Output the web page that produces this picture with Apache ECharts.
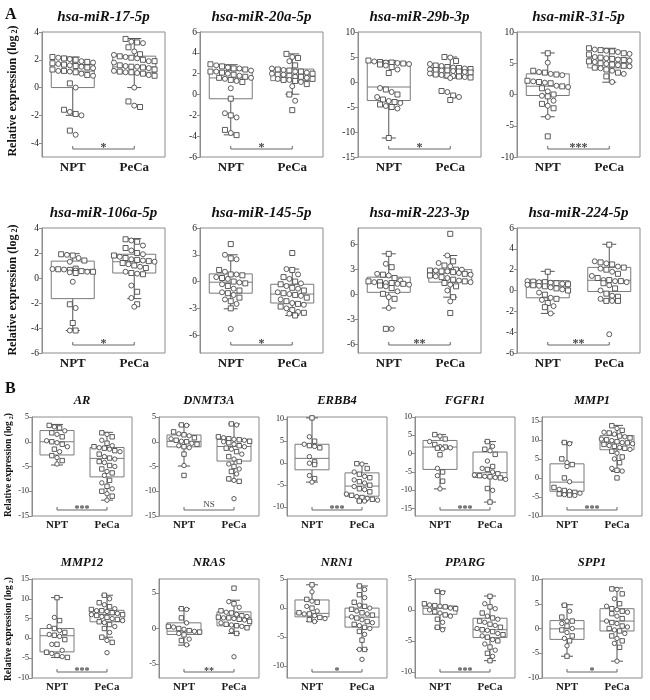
<!DOCTYPE html>
<html><head><meta charset="utf-8">
<script src="https://cdn.jsdelivr.net/npm/echarts@6/dist/echarts.min.js"></script>
<style>html,body{margin:0;padding:0;background:#fff}#c{width:650px;height:700px}</style>
</head><body><div id="c"></div>
<script>
// ---------- DATA ----------
const groups = ['NPT', 'PeCa'];

const titlesA = ['hsa-miR-17-5p','hsa-miR-20a-5p','hsa-miR-29b-3p','hsa-miR-31-5p','hsa-miR-106a-5p','hsa-miR-145-5p','hsa-miR-223-3p','hsa-miR-224-5p'];
const sigA = ['*','*','*','***','*','*','**','**'];
const rangeA = [[-5,4],[-6,6],[-15,10],[-10,10],[-6,4],[-8,6],[-7,8],[-6,6]];
const ticksA = [[-4,-2,0,2,4],[-6,-4,-2,0,2,4,6],[-15,-10,-5,0,5,10],[-10,-5,0,5,10],[-6,-4,-2,0,2,4],[-6,-3,0,3,6],[-6,-3,0,3,6],[-6,-4,-2,0,2,4,6]];

const titlesB = ['AR','DNMT3A','ERBB4','FGFR1','MMP1','MMP12','NRAS','NRN1','PPARG','SPP1'];
const sigB = ['***','NS','***','***','***','***','**','*','***','*'];
const rangeB = [[-15,5],[-15,5],[-12,10.5],[-17,10],[-10,16],[-10,15],[-7,7],[-12,5],[-11,5],[-10,10]];
const ticksB = [[-15,-10,-5,0,5],[-15,-10,-5,0,5],[-10,-5,0,5,10],[-15,-10,-5,0,5,10],[-10,-5,0,5,10,15],[-10,-5,0,5,10,15],[-5,0,5],[-10,-5,0,5],[-10,-5,0,5],[-10,-5,0,5,10]];

// box stats per group: [lower whisker, Q1, median, Q3, upper whisker] for NPT, PeCa
const m17_box = [[-2.0,0.0,1.18,1.66,2.2],[0.0,1.1,1.49,2.26,3.53]];
const m17_NPT = [2.2,2.15,2.1,2.05,2.0,1.9,1.85,1.8,1.75,1.7,1.65,1.6,1.55,1.5,1.45,1.4,1.3,1.2,1.2,1.15,1.1,1.0,0.9,0.85,0.3,0.0,-1.6,-1.75,-1.9,-2.0,-3.1,-3.4];
const m17_PeCa = [3.5,3.3,3.25,3.2,2.9,2.6,2.4,2.35,2.25,2.2,2.15,2.1,2.0,1.9,1.9,1.8,1.6,1.55,1.5,1.5,1.45,1.4,1.3,1.2,1.15,1.1,1.1,1.05,1.0,0.9,0.85,0.0,-1.0,-1.3,-1.4];

const m20a_box = [[-3.87,-0.41,1.59,2.29,2.86],[0.03,1.33,1.87,2.44,3.9]];
const m20a_NPT = [2.9,2.8,2.7,2.6,2.5,2.5,2.4,2.3,2.2,2.2,2.1,2.0,1.9,1.8,1.7,1.6,1.6,1.5,1.4,1.3,1.2,0.6,-0.4,-1.8,-2.0,-2.2,-3.4,-3.7,-3.9];
const m20a_PeCa = [3.9,3.6,3.5,3.2,2.8,2.5,2.4,2.35,2.3,2.2,2.2,2.1,2.0,2.0,1.9,1.9,1.8,1.7,1.7,1.6,1.5,1.5,1.4,1.4,1.3,1.2,1.0,0.8,0.0,-0.6,-1.5];

const m29b_box = [[-11.2,-3.7,-1.0,3.9,4.3],[0.8,1.3,2.3,2.8,5.0]];
const m29b_NPT = [4.3,4.1,4.0,3.9,3.9,3.8,3.7,3.6,3.5,3.3,3.0,2.5,1.8,-1.2,-1.5,-2.0,-2.5,-3.0,-3.5,-3.8,-4.0,-4.2,-4.5,-4.8,-5.0,-5.3,-11.2];
const m29b_PeCa = [5.0,4.9,4.2,3.6,3.3,3.2,3.0,2.9,2.8,2.7,2.6,2.5,2.4,2.3,2.3,2.2,2.1,2.0,1.9,1.7,1.5,1.4,1.3,1.2,1.1,1.0,0.9,0.8,-1.8,-2.0,-2.7,-3.0,-3.6];

const m31_box = [[-3.56,-0.16,1.33,3.3,6.65],[1.97,4.26,5.05,5.85,7.4]];
const m31_NPT = [6.6,5.1,3.8,3.6,3.5,3.3,3.2,3.1,2.2,2.1,2.0,1.9,1.8,1.4,1.3,1.2,1.0,0.5,0.0,-0.2,-0.3,-1.0,-1.5,-1.8,-2.2,-3.6,-6.7];
const m31_PeCa = [7.4,7.2,7.1,7.0,6.9,6.8,6.6,6.5,6.4,6.0,5.9,5.8,5.7,5.6,5.5,5.4,5.3,5.2,5.0,4.9,4.8,4.7,4.6,4.5,4.3,4.2,4.0,3.8,3.5,3.3,2.9,2.0];

const m106a_box = [[-4.2,-1.65,0.68,1.35,1.95],[-1.65,0.4,1.3,1.9,3.15]];
const m106a_NPT = [1.9,1.85,1.8,1.6,1.4,1.3,0.75,0.72,0.7,0.68,0.65,0.6,0.55,0.5,0.5,0.45,0.4,-0.3,-2.1,-2.4,-3.6,-4.2,-4.2];
const m106a_PeCa = [3.1,3.0,2.9,2.6,2.4,2.2,2.0,1.9,1.8,1.7,1.6,1.5,1.45,1.4,1.35,1.3,1.2,1.1,1.0,0.9,0.8,0.5,0.4,0.35,0.3,-0.6,-1.1,-1.6,-2.1,-2.3];

const m145_box = [[-3.05,-1.3,-0.07,0.86,3.0],[-3.8,-2.4,-1.4,-0.3,1.4]];
const m145_NPT = [4.2,3.0,2.6,2.5,1.3,1.1,0.8,0.8,0.7,0.5,0.4,0.3,0.0,-0.1,-0.2,-0.3,-0.5,-0.8,-1.0,-1.2,-1.3,-1.5,-1.8,-2.0,-2.2,-2.5,-3.0,-5.3];
const m145_PeCa = [3.2,1.4,1.3,0.8,0.5,0.3,0.0,-0.2,-0.3,-0.5,-0.7,-0.8,-1.0,-1.2,-1.3,-1.4,-1.5,-1.6,-1.8,-2.0,-2.2,-2.4,-2.5,-2.6,-2.8,-3.0,-3.2,-3.4,-3.5,-3.6,-3.8];

const m223_box = [[-1.6,0.28,1.4,2.1,4.9],[-0.3,1.5,2.6,3.0,4.7]];
const m223_NPT = [4.9,3.7,3.3,2.5,2.4,2.3,2.0,1.7,1.6,1.5,1.5,1.4,1.4,1.3,1.3,1.2,1.1,1.0,0.8,0.4,0.1,-0.3,-0.5,-1.6,-4.1,-4.1];
const m223_PeCa = [7.3,4.7,4.0,3.8,3.5,3.4,3.0,3.0,2.9,2.9,2.8,2.8,2.7,2.6,2.5,2.4,2.3,2.2,2.1,2.0,1.8,1.7,1.6,1.5,1.4,1.2,1.0,0.5,-0.3,-0.8,-2.2];

const m224_box = [[-2.2,-0.7,0.35,0.95,1.84],[-1.0,-0.1,0.98,2.22,4.44]];
const m224_NPT = [1.8,0.9,0.85,0.8,0.8,0.75,0.7,0.65,0.6,0.55,0.5,0.45,0.4,0.3,0.2,0.1,0.0,-0.2,-0.4,-0.7,-0.8,-0.9,-1.2,-1.5,-1.6,-2.2];
const m224_PeCa = [4.4,2.8,2.7,2.6,2.5,2.3,2.2,2.1,2.0,1.8,1.6,1.4,1.2,1.0,1.0,0.9,0.9,0.8,0.7,0.5,0.2,0.0,-0.3,-0.5,-0.6,-0.8,-1.0,-1.0,-1.0,-4.2];

const AR_box = [[-4.7,-2.67,0.0,2.26,3.5],[-11.8,-7.1,-3.36,-1.16,1.9]];
const AR_NPT = [3.3,3.0,2.8,2.2,1.8,1.5,1.0,0.2,0.0,-0.2,-0.5,-1.0,-1.5,-2.0,-2.8,-3.2,-3.8,-4.5];
const AR_PeCa = [1.8,1.5,1.0,0.3,-0.3,-0.8,-1.0,-1.2,-1.3,-1.5,-1.8,-2.0,-2.5,-3.0,-3.3,-3.5,-4.0,-4.2,-4.8,-5.0,-5.5,-6.0,-6.3,-6.8,-7.8,-8.3,-9.0,-9.5,-10.0,-10.5,-11.0,-11.8];

const DNMT3A_box = [[-4.9,-1.03,0.07,1.37,3.4],[-7.9,-3.9,-0.96,0.48,3.6]];
const DNMT3A_NPT = [3.4,3.3,2.0,1.6,1.4,1.2,0.8,0.6,0.3,0.1,0.0,-0.3,-0.5,-0.8,-1.0,-1.2,-2.5,-4.8,-6.8];
const DNMT3A_PeCa = [3.6,3.4,1.0,0.8,0.6,0.5,0.4,0.3,0.1,0.0,-0.2,-0.5,-0.8,-1.0,-1.3,-1.5,-2.0,-2.5,-3.0,-3.5,-4.0,-4.5,-5.0,-5.5,-6.0,-6.5,-7.5,-7.8,-8.0,-11.5];

const ERBB4_box = [[-4.3,-1.5,1.1,4.3,10.3],[-8.6,-7.5,-5.2,-2.2,-0.1]];
const ERBB4_NPT = [10.3,6.0,5.0,4.3,4.0,3.8,3.5,1.5,0.3,0.0,-0.3,-2.8,-3.5,-4.3];
const ERBB4_PeCa = [-0.1,-0.2,-1.2,-2.0,-2.5,-3.0,-3.3,-3.8,-4.2,-4.5,-5.0,-5.3,-5.8,-6.0,-6.5,-7.0,-7.3,-7.6,-7.8,-8.0,-8.2,-8.4,-8.6,-8.6];

const FGFR1_box = [[-9.6,-4.3,1.8,3.6,5.2],[-13.2,-6.5,-5.2,0.45,3.3]];
const FGFR1_NPT = [5.2,4.8,4.0,3.3,2.5,1.9,1.8,1.6,1.5,1.3,-0.3,-4.0,-5.0,-6.0,-7.5,-9.6];
const FGFR1_PeCa = [3.3,2.0,1.2,0.8,-0.2,-2.0,-3.5,-4.0,-4.3,-5.0,-5.5,-5.8,-6.0,-6.2,-6.3,-6.5,-6.6,-7.0,-9.5,-10.0,-13.2];

const MMP1_box = [[-4.6,-3.5,-1.1,3.7,9.4],[1.7,7.4,9.2,11.1,13.8]];
const MMP1_NPT = [9.3,9.0,5.0,4.0,3.5,3.0,0.0,-1.0,-2.5,-3.0,-3.3,-3.5,-3.8,-4.0,-4.2,-4.4,-4.5,-4.6];
const MMP1_PeCa = [13.7,13.0,12.5,12.0,11.8,11.5,11.0,10.8,10.5,10.2,10.0,9.8,9.5,9.3,9.2,9.0,8.8,8.5,8.3,8.0,7.8,7.5,7.0,6.5,5.5,5.0,4.0,2.5,2.0,1.8,0.0];

const MMP12_box = [[-4.8,-3.4,0.67,2.5,10.3],[0.3,4.2,6.0,7.1,10.9]];
const MMP12_NPT = [10.3,5.3,4.5,3.0,2.5,2.0,1.5,1.0,0.8,0.5,-0.3,-1.5,-1.5,-3.0,-3.5,-3.8,-4.3,-4.6,-4.8];
const MMP12_PeCa = [10.9,10.0,9.0,8.5,8.0,7.5,7.3,7.0,7.0,6.8,6.5,6.3,6.0,6.0,5.8,5.5,5.3,5.0,4.8,4.5,4.2,4.0,3.5,3.0,2.5,1.5,0.3,-0.5,-1.0,-3.6];

const NRAS_box = [[-2.35,-0.85,-0.38,0.8,2.8],[-0.7,0.38,1.55,2.35,4.0]];
const NRAS_NPT = [2.8,2.7,1.5,0.8,0.3,0.2,0.0,-0.1,-0.3,-0.4,-0.5,-0.7,-0.9,-1.5,-1.7,-2.3];
const NRAS_PeCa = [5.7,3.8,3.5,3.0,2.5,2.3,2.2,2.0,1.8,1.7,1.6,1.5,1.5,1.4,1.3,1.2,1.0,0.8,0.6,0.5,0.4,0.3,0.1,-0.3,-0.7,-4.0];

const NRN1_box = [[-2.3,-1.5,-0.9,1.4,4.0],[-7.1,-3.26,-1.54,0.0,3.8]];
const NRN1_NPT = [4.0,2.8,1.5,1.2,1.0,0.3,0.0,-0.5,-0.8,-1.0,-1.0,-1.3,-1.6,-1.8,-2.0,-2.3];
const NRN1_PeCa = [3.8,3.2,2.3,1.8,1.0,0.5,0.3,0.0,-0.2,-0.5,-0.8,-1.0,-1.2,-1.5,-1.7,-2.0,-2.3,-2.5,-2.8,-3.0,-3.3,-3.5,-4.0,-4.5,-5.5,-7.1,-7.1,-8.8];

const PPARG_box = [[-2.9,-0.7,0.27,0.64,3.05],[-8.2,-4.44,-3.2,-1.34,2.25]];
const PPARG_NPT = [3.0,2.8,1.0,0.8,0.7,0.6,0.5,0.3,0.2,0.0,-0.3,-0.5,-0.8,-1.0,-1.5,-2.0,-2.8,-3.2];
const PPARG_PeCa = [2.2,1.0,0.5,0.2,-0.5,-1.0,-1.3,-1.5,-1.8,-2.0,-2.3,-2.5,-2.8,-3.0,-3.2,-3.3,-3.5,-3.8,-4.0,-4.2,-4.4,-4.8,-5.0,-5.5,-6.0,-6.5,-7.0,-7.5,-8.2];

const SPP1_box = [[-5.6,-2.2,-0.07,1.6,4.8],[-6.6,-0.5,1.5,4.0,8.2]];
const SPP1_NPT = [4.7,3.5,2.3,1.5,1.5,1.0,0.5,0.0,-0.3,-0.8,-1.5,-2.0,-2.5,-3.5,-5.6];
const SPP1_PeCa = [8.0,7.9,7.0,6.0,5.0,4.5,4.0,3.8,3.5,3.3,3.0,2.5,2.0,1.5,1.2,1.0,0.5,0.3,0.0,-0.3,-0.5,-1.0,-1.5,-2.0,-2.5,-3.0,-3.8,-6.6];

const boxesA = [m17_box,m20a_box,m29b_box,m31_box,m106a_box,m145_box,m223_box,m224_box];
const nptA = [m17_NPT,m20a_NPT,m29b_NPT,m31_NPT,m106a_NPT,m145_NPT,m223_NPT,m224_NPT];
const pecaA = [m17_PeCa,m20a_PeCa,m29b_PeCa,m31_PeCa,m106a_PeCa,m145_PeCa,m223_PeCa,m224_PeCa];
const boxesB = [AR_box,DNMT3A_box,ERBB4_box,FGFR1_box,MMP1_box,MMP12_box,NRAS_box,NRN1_box,PPARG_box,SPP1_box];
const nptB = [AR_NPT,DNMT3A_NPT,ERBB4_NPT,FGFR1_NPT,MMP1_NPT,MMP12_NPT,NRAS_NPT,NRN1_NPT,PPARG_NPT,SPP1_NPT];
const pecaB = [AR_PeCa,DNMT3A_PeCa,ERBB4_PeCa,FGFR1_PeCa,MMP1_PeCa,MMP12_PeCa,NRAS_PeCa,NRN1_PeCa,PPARG_PeCa,SPP1_PeCa];

// ---------- LAYOUT ----------
const FONT = '"Liberation Serif","Times New Roman",serif';
const styleA = {cols:[42,200,358,517], rows:[32,228], w:123, h:125, boxW:43, capW:14, pt:5, tick:9.5, cat:13, catMargin:4, brk:8, sig:12, title:15, titleDy:15};
const styleB = {cols:[32,159,287,415,542], rows:[417,579], w:100, h:99, boxW:34, capW:12, pt:4.4, tick:8, cat:11, catMargin:4, brk:6, sig:10, title:12.5, titleDy:16};

const option = {animation:false, backgroundColor:'#fff', grid:[], xAxis:[], yAxis:[], series:[], graphic:[]};

// row-packed scatter (like a column scatter plot): close values share a row, centred on the group
function swarm(vals, ppu, d, maxRow) {
  const order = vals.map((v,i)=>i).sort((a,b)=>vals[b]-vals[a]);
  const offs = new Array(vals.length).fill(0);
  let row = [];
  const flush = () => { row.forEach((i,k)=>{ offs[i] = (k - (row.length-1)/2) * d; }); row = []; };
  for (const i of order) {
    if (row.length && (row.length >= maxRow || (vals[row[0]] - vals[i]) * ppu >= d * 1.2)) flush();
    row.push(i);
  }
  flush();
  return offs;
}

function addPanel(title, sig, range, ticks, box, npt, peca, left, top, st) {
  const gi = option.grid.length;
  option.grid.push({left, top, width:st.w, height:st.h, show:true, borderColor:'#8c8c8c', borderWidth:1});
  option.xAxis.push({gridIndex:gi, type:'category', data:groups, boundaryGap:true,
    axisLine:{show:false}, axisTick:{show:false},
    axisLabel:{fontFamily:FONT, fontWeight:'bold', fontSize:st.cat, color:'#1a1a1a', margin:st.catMargin}});
  option.yAxis.push({gridIndex:gi, type:'value', min:range[0], max:range[1],
    axisLine:{show:true, lineStyle:{color:'#8c8c8c'}},
    axisTick:{show:true, length:3, customValues:ticks, lineStyle:{color:'#8c8c8c'}},
    axisLabel:{customValues:ticks, fontFamily:FONT, fontSize:st.tick, color:'#222', margin:3},
    splitLine:{show:false}});
  option.series.push({type:'custom', xAxisIndex:gi, yAxisIndex:gi, encode:{x:0, y:1},
    data: box.map((b,i)=>[i, b[0], b[1], b[2], b[3], b[4]]),
    renderItem:(params, api)=>{
      const c = api.value(0);
      const lo = api.coord([c, api.value(1)]), q1 = api.coord([c, api.value(2)]),
            md = api.coord([c, api.value(3)]), q3 = api.coord([c, api.value(4)]), hi = api.coord([c, api.value(5)]);
      const x = lo[0], hw = st.boxW/2, cw = st.capW/2;
      const ls = {stroke:'#7a7a7a', lineWidth:1};
      const ws = {stroke:'#555', lineWidth:1};
      return {type:'group', children:[
        {type:'line', shape:{x1:x, y1:hi[1], x2:x, y2:q3[1]}, style:ws},
        {type:'line', shape:{x1:x, y1:q1[1], x2:x, y2:lo[1]}, style:ws},
        {type:'line', shape:{x1:x-cw, y1:hi[1], x2:x+cw, y2:hi[1]}, style:ws},
        {type:'line', shape:{x1:x-cw, y1:lo[1], x2:x+cw, y2:lo[1]}, style:ws},
        {type:'rect', shape:{x:x-hw, y:q3[1], width:2*hw, height:q1[1]-q3[1]}, style:{fill:'none', stroke:'#7a7a7a', lineWidth:1}},
        {type:'line', shape:{x1:x-hw, y1:md[1], x2:x+hw, y2:md[1]}, style:ls}
      ]};
    }});
  const ppu = st.h / (range[1]-range[0]);
  const d = st.pt + 0.8;
  const maxRow = Math.floor((st.boxW + 4) / d);
  const pts = [];
  [npt, peca].forEach((vals, g) => {
    const offs = swarm(vals, ppu, d, maxRow);
    vals.forEach((v, k) => pts.push([g, v, offs[k], k % 2]));
  });
  option.series.push({type:'custom', xAxisIndex:gi, yAxisIndex:gi, encode:{x:0, y:1}, z:3,
    data: pts,
    renderItem:(params, api)=>{
      const c = api.coord([api.value(0), api.value(1)]);
      const x = c[0] + api.value(2), y = c[1], s = st.pt;
      const style = {fill:'#fff', stroke:'#4a4a4a', lineWidth:0.9};
      if (api.value(3) === 1) return {type:'circle', shape:{cx:x, cy:y, r:s/2}, style};
      return {type:'rect', shape:{x:x-s/2, y:y-s/2, width:s, height:s}, style};
    }});
  option.series.push({type:'custom', xAxisIndex:gi, yAxisIndex:gi, encode:{x:0, y:1}, z:4,
    data:[[0, range[0]]],
    renderItem:(params, api)=>{
      const cs = params.coordSys;
      const x0 = api.coord([0, 0])[0], x1 = api.coord([1, 0])[0];
      const yb = cs.y + cs.height - st.brk;
      const isNS = sig === 'NS';
      return {type:'group', children:[
        {type:'polyline', shape:{points:[[x0, yb-3],[x0, yb],[x1, yb],[x1, yb-3]]}, style:{stroke:'#666', fill:null, lineWidth:1}},
        {type:'text', style:{text:sig, x:(x0+x1)/2, y: isNS ? yb-5 : yb-1, align:'center', verticalAlign:'middle',
          font: (isNS ? '' : 'bold ') + (isNS ? st.sig-1 : st.sig) + 'px ' + FONT, fill:'#444'}}
      ]};
    }});
  option.graphic.push({type:'text', x:left + st.w/2, y:top - st.titleDy, style:{text:title, align:'center', verticalAlign:'middle',
    font:'italic bold ' + st.title + 'px ' + FONT, fill:'#111'}});
}

for (let i = 0; i < 8; i++) {
  const r = Math.floor(i/4), c = i % 4;
  addPanel(titlesA[i], sigA[i], rangeA[i], ticksA[i], boxesA[i], nptA[i], pecaA[i], styleA.cols[c], styleA.rows[r], styleA);
}
for (let i = 0; i < 10; i++) {
  const r = Math.floor(i/5), c = i % 5;
  addPanel(titlesB[i], sigB[i], rangeB[i], ticksB[i], boxesB[i], nptB[i], pecaB[i], styleB.cols[c], styleB.rows[r], styleB);
}

option.graphic.push({type:'text', x:5, y:15, style:{text:'A', font:'bold 16px ' + FONT, fill:'#111', verticalAlign:'middle'}});
option.graphic.push({type:'text', x:5, y:389, style:{text:'B', font:'bold 16px ' + FONT, fill:'#111', verticalAlign:'middle'}});
function yName(x, y, size) {
  option.graphic.push({type:'text', x, y, rotation:Math.PI/2,
    style:{text:'Relative expression (log{s|2})', font:'bold ' + size + 'px ' + FONT, fill:'#111', align:'center', verticalAlign:'middle',
      rich:{s:{font:'bold ' + Math.round(size*0.65) + 'px ' + FONT, verticalAlign:'bottom', padding:[0,0,0,2]}}}});
}
yName(13, 91, 12);
yName(13, 290, 12);
yName(9, 465, 9.5);
yName(9, 629, 9.5);

echarts.init(document.getElementById('c'), null, {renderer:'canvas'}).setOption(option);
</script>
</body></html>
